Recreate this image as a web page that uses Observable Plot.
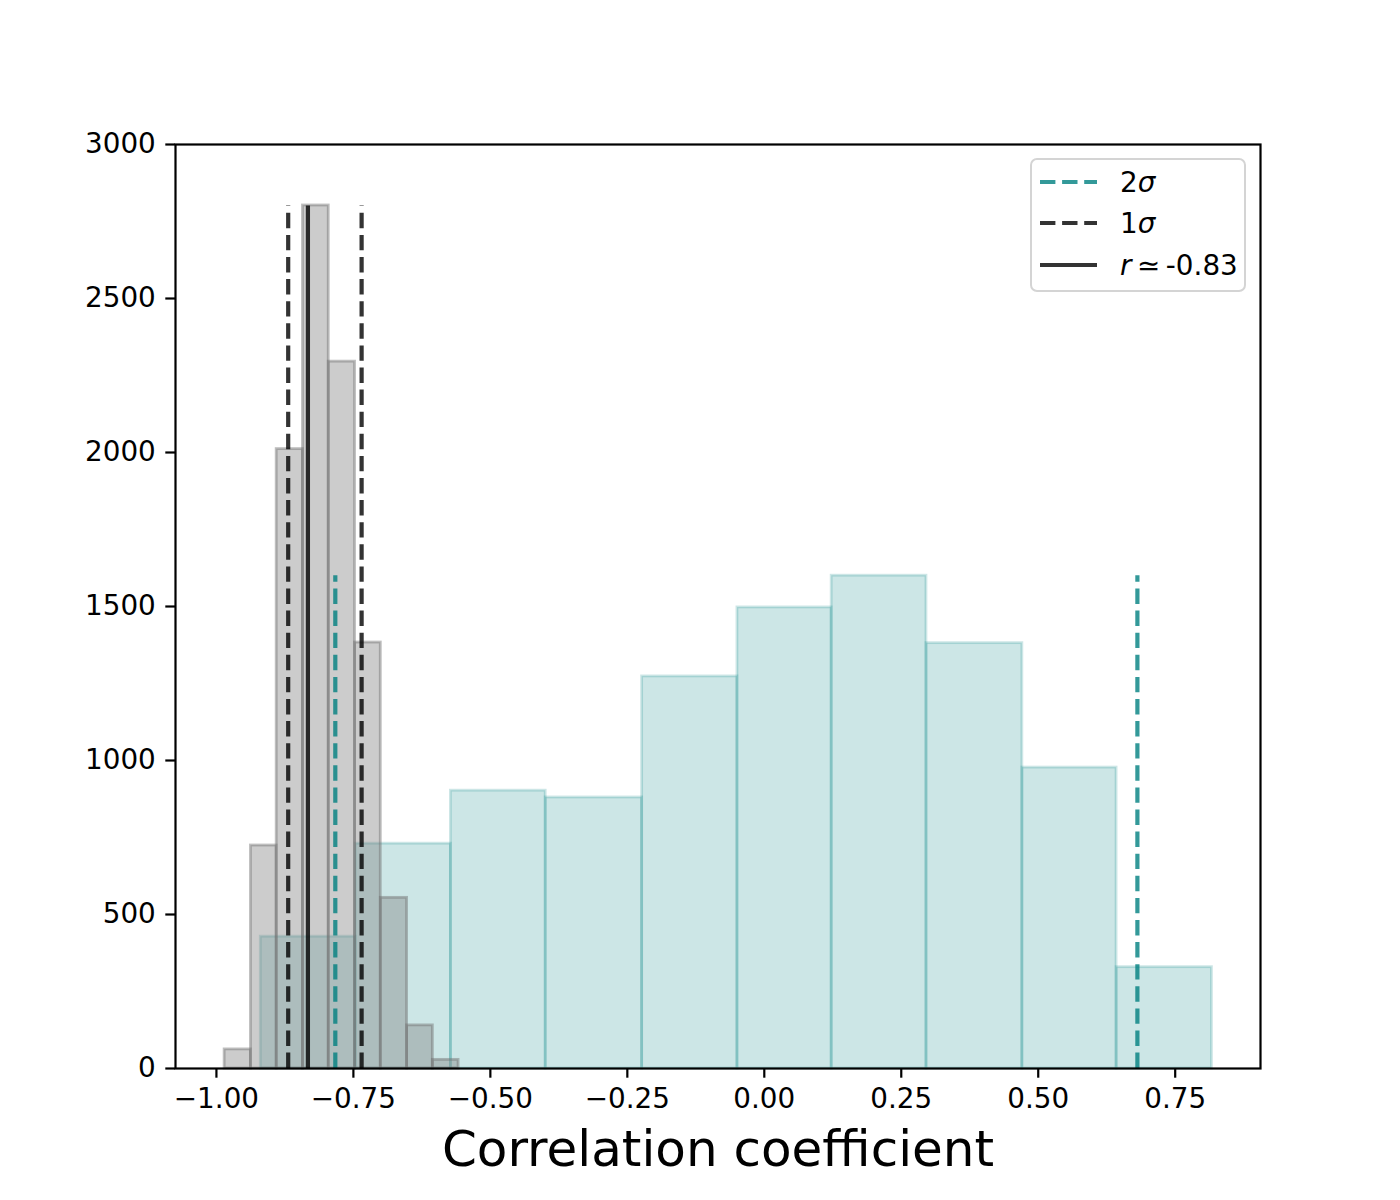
<!DOCTYPE html>
<html>
<head>
<meta charset="utf-8">
<script src="https://cdn.jsdelivr.net/npm/d3@7"></script>
<script src="https://cdn.jsdelivr.net/npm/@observablehq/plot@0.6"></script>
<style>
  html, body { margin: 0; padding: 0; background: #fff; }
  #wrap { position: relative; width: 1400px; height: 1200px; font-family: "DejaVu Sans", sans-serif; }
  #legend { position: absolute; left: 1030px; top: 158px; width: 212px; height: 130px;
    border: 2px solid #d4d4d4; border-radius: 7px; background: rgba(255,255,255,0.8); }
  .row { position: absolute; left: 0; height: 40px; display: flex; align-items: center; }
  .row span { position: absolute; left: 88px; font-size: 27.8px; white-space: nowrap; color: #000; }
  .row svg { position: absolute; left: 8px; }
</style>
</head>
<body>
<div id="wrap"></div>
<script>
// Null-hypothesis histogram (teal) bin edges and counts
const tealEdges = [-0.919, -0.746, -0.572, -0.399, -0.223, -0.049, 0.123, 0.296, 0.471, 0.643, 0.817];
const tealCounts = [428, 730, 902, 880, 1273, 1497, 1600, 1381, 977, 329];
// Bootstrap histogram (gray) bin edges and counts
const grayEdges = [-0.985, -0.937, -0.890, -0.842, -0.795, -0.747, -0.700, -0.652, -0.605, -0.558];
const grayCounts = [62, 724, 2011, 2802, 2295, 1383, 554, 140, 28];
// Reference lines
const twoSigma = [-0.783, 0.681];
const twoSigmaTop = 1600;
const oneSigma = [-0.869, -0.735];
const oneSigmaTop = 2800;
const rValue = -0.833;
const rTop = 2800;
const xTicks = [-1.00, -0.75, -0.50, -0.25, 0.00, 0.25, 0.50, 0.75];
const yTicks = [0, 500, 1000, 1500, 2000, 2500, 3000];
const xLabel = "Correlation coefficient";

const teal = tealCounts.map((c, i) => ({x1: tealEdges[i], x2: tealEdges[i + 1], y: c}));
const gray = grayCounts.map((c, i) => ({x1: grayEdges[i], x2: grayEdges[i + 1], y: c}));

const fmt = v => d3.format(".2f")(v).replace("-", "\u2212");
const fmtY = d3.format("d");

const chart = Plot.plot({
  width: 1400,
  height: 1200,
  marginTop: 144,
  marginBottom: 132,
  marginLeft: 175,
  marginRight: 140,
  style: {fontFamily: "DejaVu Sans", background: "#fff", color: "#000"},
  x: {domain: [-1.0747, 0.9057], ticks: xTicks, tickFormat: fmt},
  y: {domain: [0, 3000], ticks: yTicks, tickFormat: fmtY},
  marks: [
    Plot.rect(teal, {x1: "x1", x2: "x2", y1: 0, y2: "y", fill: "teal", fillOpacity: 0.2,
      stroke: "teal", strokeOpacity: 0.2, strokeWidth: 2.8}),
    Plot.rect(gray, {x1: "x1", x2: "x2", y1: 0, y2: "y", fill: "gray", fillOpacity: 0.4,
      stroke: "#6e6e6e", strokeOpacity: 0.45, strokeWidth: 2.8}),
    Plot.ruleX(twoSigma, {x: d => d, y1: 0, y2: twoSigmaTop, stroke: "teal", strokeOpacity: 0.8,
      strokeWidth: 4.2, strokeDasharray: "15.4,6.7"}),
    Plot.ruleX(oneSigma, {x: d => d, y1: 0, y2: oneSigmaTop, stroke: "black", strokeOpacity: 0.8,
      strokeWidth: 4.2, strokeDasharray: "15.4,6.7"}),
    Plot.ruleX([rValue], {x: d => d, y1: 0, y2: rTop, stroke: "black", strokeOpacity: 0.8, strokeWidth: 4.2}),
    Plot.frame({stroke: "black", strokeWidth: 2.2}),
    Plot.axisX({ticks: xTicks, tickFormat: fmt, tickSize: 9.7, tickPadding: 10, fontSize: 27.8,
      strokeWidth: 2.2, label: null}),
    Plot.axisY({ticks: yTicks, tickFormat: fmtY, tickSize: 9.7, tickPadding: 10, fontSize: 27.8, strokeWidth: 2.2, label: null}),
    Plot.text([xLabel], {text: d => d, frameAnchor: "bottom", dy: 97, fontSize: 50, fill: "black"})
  ]
});

const wrap = document.getElementById("wrap");
wrap.appendChild(chart);

// Legend
const legend = document.createElement("div");
legend.id = "legend";
const rows = [
  {html: '2<i>σ</i>', color: "rgba(0,128,128,0.8)", dash: "15.4,6.7", top: 2},
  {html: '1<i>σ</i>', color: "rgba(0,0,0,0.8)", dash: "15.4,6.7", top: 43},
  {html: '<i>r</i>\u2009≃\u2009-0.83', color: "rgba(0,0,0,0.8)", dash: null, top: 85}
];
for (const r of rows) {
  const row = document.createElement("div");
  row.className = "row";
  row.style.top = r.top + "px";
  row.innerHTML = `<svg width="60" height="40"><line x1="0" x2="57" y1="20" y2="20" stroke="${r.color}" stroke-width="4.2" ${r.dash ? `stroke-dasharray="${r.dash}"` : ""}/></svg><span>${r.html}</span>`;
  legend.appendChild(row);
}
wrap.appendChild(legend);
</script>
</body>
</html>
